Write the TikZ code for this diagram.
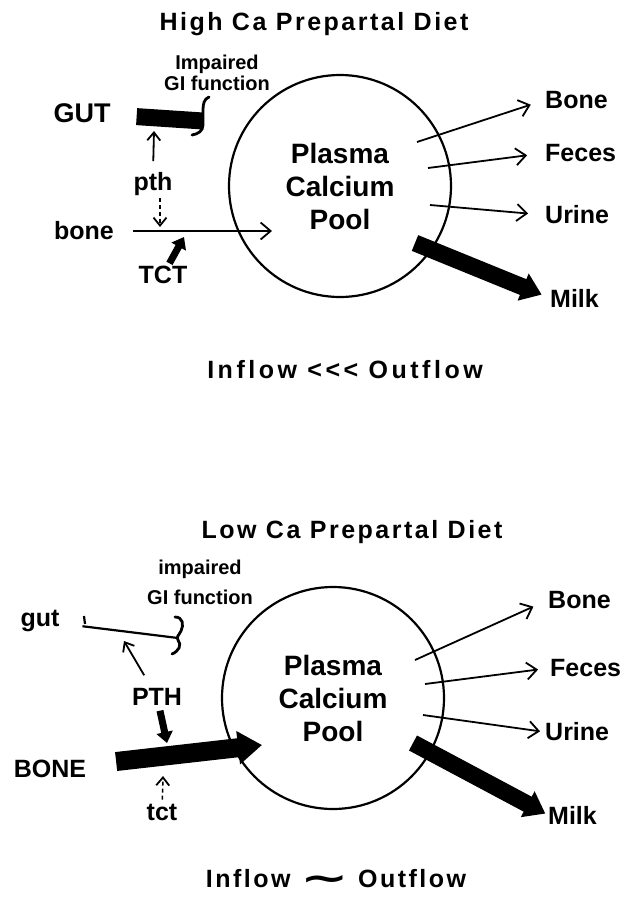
\documentclass[tikz,border=0pt]{standalone}
\usepackage{fontspec}
\setmainfont{Liberation Sans}
\newfontfamily\spaced{Liberation Sans}[LetterSpace=10]
\newfontfamily\wider{Liberation Sans}[LetterSpace=14]
\newfontfamily\symfont{DejaVu Sans}
\usetikzlibrary{arrows.meta, calc}

\tikzset{
    lbl/.style={inner sep=0pt, font=\fontsize{25}{25}\selectfont\bfseries},
    head/.style={inner sep=0pt, font=\spaced\fontsize{25}{25}\selectfont\bfseries},
    note/.style={inner sep=0pt, align=center, font=\fontsize{20}{21}\selectfont\bfseries},
    pool/.style={circle, draw, line width=2.2pt, minimum size=222pt, inner sep=0pt,
        align=center, font=\fontsize{28}{33}\selectfont\bfseries},
    flow/.style={line width=1.8pt, -{Straight Barb[length=10pt,width=17pt,line width=1.8pt]}},
    reg/.style={line width=1.8pt, -{Straight Barb[length=8pt,width=13pt,line width=1.8pt]}},
    weak/.style={reg, line width=1.5pt, dash pattern=on 4pt off 3pt},
    fat/.style={line width=17pt, -{Triangle[length=20pt,width=28pt]}},
    stub/.style={line width=7pt, -{Triangle[length=11pt,width=16pt]}},
    block/.style={line width=2.8pt, line cap=round},
}

\begin{document}
\begin{tikzpicture}[x=1pt, y=-1pt]
    \useasboundingbox (0,0) rectangle (632,898);

    % -------------------------------------------------------------
    % (a) High Ca prepartal diet
    % -------------------------------------------------------------
    \begin{scope}
        \node (title1) [head] at (314,24) {High Ca Prepartal Diet};
        \node (pool1) [pool] at (340,186) {Plasma\\Calcium\\Pool};

        \node (gut1) [lbl, font=\fontsize{27}{27}\selectfont\bfseries] at (82,113) {GUT};
        \node (gi1) [note] at (217,73) {Impaired\\GI function};
        \node (pth1) [lbl] at (153,184) {pth};
        \node (bone1) [lbl] at (84,231) {bone};
        \node (tct1) [lbl] at (163,275) {TCT};

        \node (Bone1) [lbl, anchor=west] at (545,100) {Bone};
        \node (Feces1) [lbl, anchor=west] at (545,153) {Feces};
        \node (Urine1) [lbl, anchor=west] at (545,215) {Urine};
        \node (Milk1) [lbl, anchor=west] at (550,298) {Milk};

        \node (bal1) [head, font=\wider\fontsize{25}{25}\selectfont\bfseries] at (345,370) {Inflow <<< Outflow};

        \coordinate (gutend1) at (203,121);
        \coordinate (gutbase1) at (154,131);
        \coordinate (cut1) at (160,227);
        \coordinate (inflow1) at (272,231);
        \coordinate (tcttip1) at (184,237);
        \coordinate (o11) at (417,142);
        \coordinate (o12) at (428,168);
        \coordinate (o13) at (430,205);
        \coordinate (o14) at (415,243);

        % gut uptake, blocked
        \draw[line width=17pt, shorten <=26pt] (gut1) -- (gutend1);
        \draw[block] (209,97) .. controls (204,99) and (203,104) .. (203,110)
            -- (203,125) .. controls (203,131) and (198,134) .. (192,135);

        % hormones
        \draw[reg, shorten <=11pt] (pth1.north) -- (gutbase1);
        \draw[weak, shorten <=2pt] (pth1.south -| cut1) -- (cut1);
        \draw[flow, shorten <=19pt] (bone1) -- (inflow1);
        \draw[stub, shorten <=3pt] (tct1) -- (tcttip1);

        % outflows
        \draw[flow, shorten >=15pt] (o11) -- (Bone1.west);
        \draw[flow, shorten >=18pt] (o12) -- (Feces1.west);
        \draw[flow, shorten >=17pt] (o13) -- (Urine1.west);
        \draw[fat, shorten >=9pt] (o14) -- (Milk1.west);
    \end{scope}

    % -------------------------------------------------------------
    % (b) Low Ca prepartal diet
    % -------------------------------------------------------------
    \begin{scope}
        \node (title2) [head] at (352,532) {Low Ca Prepartal Diet};
        \node (pool2) [pool] at (333,698) {Plasma\\Calcium\\Pool};

        \node (gut2) [lbl] at (40,621) {gut};
        \node (gi2) [note, font=\fontsize{20}{30}\selectfont\bfseries] at (200,582) {impaired\\GI function};
        \node (pth2) [lbl] at (157,697) {PTH};
        \node (bone2) [lbl] at (50,769) {BONE};
        \node (tct2) [lbl] at (162,812) {tct};

        \node (Bone2) [lbl, anchor=west] at (548,600) {Bone};
        \node (Feces2) [lbl, anchor=west] at (550,668) {Feces};
        \node (Urine2) [lbl, anchor=west] at (545,732) {Urine};
        \node (Milk2) [lbl, anchor=west] at (548,815) {Milk};

        \node (bal2) [head] at (336,880)
            {Inflow \raisebox{-3pt}{\scalebox{1.45}[0.9]{\symfont\fontsize{40}{40}\selectfont\bfseries ∼}} Outflow};

        \coordinate (gutend2) at (178,638);
        \coordinate (guthit2) at (124,641);
        \coordinate (bonehit2) at (167,743);
        \coordinate (inflow2) at (262,745);
        \coordinate (tcthit2) at (163,776);
        \coordinate (o21) at (415,660);
        \coordinate (o22) at (425,684);
        \coordinate (o23) at (423,715);
        \coordinate (o24) at (413,743);

        % gut uptake, blocked
        \draw[line width=2.2pt, shorten <=23pt] (gut2) -- (gutend2);
        \draw[line width=2.2pt] (84,616) -- (85,624);
        \draw[block] (175,617) .. controls (183,617) and (184,625) .. (181,631)
            .. controls (179,635) and (176,637) .. (178,640)
            .. controls (182,645) and (179,651) .. (172,654);

        % hormones
        \draw[reg, shorten <=15pt] (pth2) -- (guthit2);
        \draw[stub, shorten <=5pt] (pth2) -- (bonehit2);
        \draw[fat, line width=19pt, -{Triangle[length=24pt,width=32pt]}, shorten <=30pt] (bone2) -- (inflow2);
        \draw[weak, shorten <=4pt] (tct2) -- (tcthit2);

        % outflows
        \draw[flow, shorten >=16pt] (o21) -- (Bone2.west);
        \draw[flow, shorten >=12pt] (o22) -- (Feces2.west);
        \draw[flow, shorten >=5pt] (o23) -- (Urine2.west);
        \draw[fat, shorten >=3pt] (o24) -- (Milk2.west);
    \end{scope}

\end{tikzpicture}
\end{document}
